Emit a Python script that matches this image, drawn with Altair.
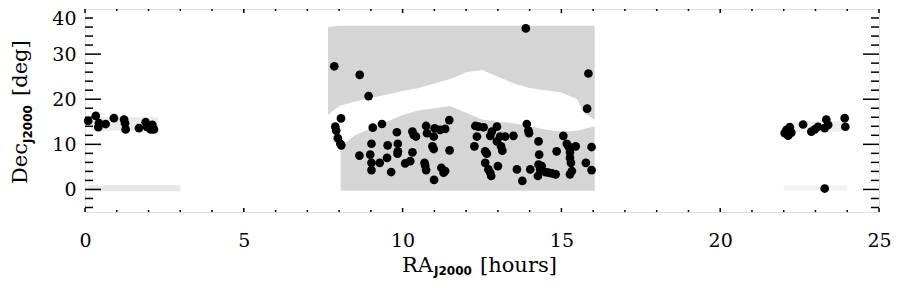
import altair as alt
import pandas as pd

# ---------------- data ----------------
# black points: RA [h], Dec [deg]
ra_black = [
    0.10, 0.34, 0.42, 0.44, 0.65, 0.91, 1.23, 1.26, 1.28, 1.70, 1.91, 1.96, 2.07, 2.12, 2.17,
    8.06, 7.88, 7.91, 7.96, 8.04, 8.07,
    7.85, 8.65, 8.93, 13.88, 15.85, 15.81,
    8.64, 8.98, 9.02, 9.06, 9.35, 9.02, 9.28, 9.02, 9.53, 9.51, 9.64, 9.82, 9.85, 9.85, 9.84,
    10.08, 10.24, 10.31, 10.31, 10.35, 10.42, 10.69, 10.71, 10.74, 10.74, 10.77, 11.01, 10.98,
    10.94, 10.98, 10.99, 11.18, 11.22, 11.29, 11.34, 11.34, 11.47, 11.48,
    12.29, 12.39, 12.34, 12.26, 12.55, 12.60, 12.65, 12.60, 12.70, 12.76, 12.79, 12.81, 12.76,
    12.97, 12.97, 13.00, 13.07, 13.10, 13.14, 13.23, 13.49, 13.60, 13.77, 13.91, 13.96, 13.98,
    14.28, 14.30, 14.28, 14.33, 14.38, 14.49, 14.59, 14.70, 14.82, 14.02, 14.26, 14.85,
    15.06, 15.17, 15.22, 15.30, 15.27, 15.27, 15.27, 15.33, 15.45, 15.77, 15.95, 15.95,
    22.03, 22.09, 22.14, 22.19, 22.24, 22.61, 22.87, 22.98, 23.08, 23.29, 23.34, 23.40,
    23.92, 23.94, 23.29,
]
dec_black = [
    15.2, 16.3, 13.8, 14.7, 14.5, 15.8, 15.5, 14.7, 13.3, 13.6, 14.9, 13.8, 13.3, 14.3, 13.3,
    15.75, 13.92, 13.05, 11.37, 10.13, 9.77,
    27.3, 25.4, 20.7, 35.7, 25.7, 17.9,
    7.50, 7.72, 10.13, 13.70, 14.51, 5.90, 5.90, 4.29, 9.77, 6.99, 3.86, 12.68, 10.13, 8.45, 7.94,
    5.76, 6.27, 8.23, 12.83, 12.10, 11.73, 5.90, 5.32, 4.29, 14.07, 12.46, 13.56, 11.73,
    9.55, 8.96, 2.11, 13.19, 4.81, 3.71, 4.08, 13.41, 15.38, 8.67,
    14.07, 13.92, 11.73, 9.55, 13.78, 8.45, 7.94, 5.90, 4.44, 3.71, 2.98, 12.83, 11.88,
    13.92, 10.64, 5.17, 11.73, 9.55, 8.60, 11.73, 11.88, 4.44, 1.89, 14.51, 13.05, 12.46,
    10.64, 7.72, 5.53, 4.44, 5.17, 3.86, 3.71, 3.57, 3.35, 4.44, 2.98, 8.45,
    11.88, 10.13, 9.55, 5.90, 8.23, 6.99, 3.35, 4.08, 9.55, 5.90, 9.40, 4.29,
    12.5, 13.2, 11.9, 13.8, 12.6, 14.4, 12.8, 13.3, 13.9, 13.6, 15.5, 14.3,
    15.8, 13.9, 0.2,
]

# grey survey field (central block), upper part: RA, top and bottom Dec
up_ra = [7.65, 8.0, 8.5, 9.0, 9.5, 10.0, 10.5, 11.0, 11.5, 12.0, 12.5, 13.0, 13.5, 14.0, 14.5, 15.0, 15.5, 15.7, 16.05]
up_top = [36.0, 36.3, 36.3, 36.3, 36.3, 36.3, 36.3, 36.3, 36.3, 36.3, 36.3, 36.3, 36.3, 36.3, 36.3, 36.3, 36.3, 36.3, 36.3]
up_bottom = [16.5, 18.5, 19.5, 20.3, 21.0, 21.8, 22.5, 23.5, 24.5, 26.0, 26.5, 25.0, 23.5, 22.5, 22.0, 21.5, 20.0, 17.0, 15.5]
# lower part
lo_ra = [8.05, 8.5, 9.0, 9.5, 10.0, 10.5, 11.0, 11.5, 12.0, 12.5, 13.0, 13.5, 14.0, 14.5, 15.0, 15.5, 16.05]
lo_top = [9.5, 12.0, 13.5, 15.0, 16.5, 17.5, 18.0, 18.5, 17.0, 15.5, 15.0, 14.7, 14.0, 13.3, 12.8, 13.0, 14.0]
lo_bottom = [-0.3, -0.3, -0.3, -0.3, -0.3, -0.3, -0.3, -0.3, -0.3, -0.3, -0.3, -0.3, -0.3, -0.3, -0.3, -0.3, -0.3]
field_density = 0.40

# sparse grey strips
strip_ra0 = [0.1, 0.2, 22.0, 22.3]
strip_ra1 = [3.0, 2.3, 24.0, 23.9]
strip_dec0 = [-0.4, 13.0, -0.3, 12.8]
strip_dec1 = [1.0, 16.0, 0.9, 15.2]
strip_density = [0.22, 0.2, 0.12, 0.15]

# ticks
x_major = [0, 5, 10, 15, 20, 25]
x_minor = [1, 2, 3, 4, 6, 7, 8, 9, 11, 12, 13, 14, 16, 17, 18, 19, 21, 22, 23, 24]
y_major = [0, 10, 20, 30]
y_minor = [-4, -2, 2, 4, 6, 8, 12, 14, 16, 18, 22, 24, 26, 28, 32, 34, 36, 38]
y_labels = [0, 10, 20, 30, 40]

# ---------------- chart ----------------
W, H = 794, 203
xs = alt.Scale(domain=[0, 25], nice=False, zero=False)
ys = alt.Scale(domain=[-5, 40], nice=False, zero=False)
dens = alt.Scale(domain=[0, 1], range=["#ffffff", "#999999"])

SERIF = "DejaVu Serif"

x_axis = alt.Axis(
    values=x_major, format="d", ticks=False, tickSize=0, domain=False, grid=False, title=None,
    labelFont=SERIF, labelFontSize=19, labelColor="black", labelPadding=19, labelFlush=False)
y_axis = alt.Axis(
    values=y_labels, format="d", ticks=False, tickSize=0, domain=False, grid=False, title=None,
    labelFont=SERIF, labelFontSize=19, labelColor="black", labelPadding=9,
    labelFlush=True, labelFlushOffset=0)

upper = pd.DataFrame({"ra": up_ra, "top": up_top, "bot": up_bottom, "d": field_density})
lower = pd.DataFrame({"ra": lo_ra, "top": lo_top, "bot": lo_bottom, "d": field_density})

area_up = alt.Chart(upper).mark_area(interpolate="linear").encode(
    x=alt.X("ra:Q", scale=xs, axis=x_axis),
    y=alt.Y("top:Q", scale=ys, axis=y_axis), y2="bot:Q",
    color=alt.Color("d:Q", scale=dens, legend=None))
area_lo = alt.Chart(lower).mark_area(interpolate="linear").encode(
    x=alt.X("ra:Q", scale=xs), y=alt.Y("top:Q", scale=ys), y2="bot:Q",
    color=alt.Color("d:Q", scale=dens, legend=None))

strips = alt.Chart(pd.DataFrame({"r0": strip_ra0, "r1": strip_ra1, "d0": strip_dec0,
                                 "d1": strip_dec1, "d": strip_density})).mark_rect().encode(
    x=alt.X("r0:Q", scale=xs), x2="r1:Q", y=alt.Y("d0:Q", scale=ys), y2="d1:Q",
    color=alt.Color("d:Q", scale=dens, legend=None))

points = alt.Chart(pd.DataFrame({"ra": ra_black, "dec": dec_black})).mark_circle(
    size=76, color="black", opacity=1).encode(
    x=alt.X("ra:Q", scale=xs), y=alt.Y("dec:Q", scale=ys))

# inward ticks on all four sides
def xticks(vals, y0, y1):
    return alt.Chart(pd.DataFrame({"t": vals})).mark_rule(color="black", strokeWidth=1.5).encode(
        x=alt.X("t:Q", scale=xs), y=alt.value(y0), y2=alt.value(y1))

def yticks(vals, x0, x1):
    return alt.Chart(pd.DataFrame({"t": vals})).mark_rule(color="black", strokeWidth=1.5).encode(
        y=alt.Y("t:Q", scale=ys), x=alt.value(x0), x2=alt.value(x1))

tick_layers = [
    xticks(x_major, H, H - 4), xticks(x_minor, H, H - 2),
    xticks(x_major, 0, 4), xticks(x_minor, 0, 2),
    yticks(y_major, 0, 16), yticks(y_minor, 0, 8),
    yticks(y_major, W, W - 16), yticks(y_minor, W, W - 8),
]

def txt(s, x, y, size, font=SERIF, weight="normal", angle=0):
    return alt.Chart(pd.DataFrame({"s": [s]})).mark_text(
        font=font, fontSize=size, fontWeight=weight, align="left", baseline="alphabetic",
        angle=angle, color="black").encode(x=alt.value(x), y=alt.value(y), text="s:N")

titles = [
    txt("RA", 317, 263, 21),
    txt("J2000", 349, 266, 12, font="DejaVu Sans", weight="bold"),
    txt("[hours]", 395, 263, 21),
    txt("Dec", -58, 175, 21, angle=270),
    txt("J2000", -53, 134, 12, font="DejaVu Sans", weight="bold", angle=270),
    txt("[deg]", -58, 87, 21, angle=270),
]

chart = alt.layer(area_up, area_lo, strips, points, *tick_layers, *titles).resolve_scale(
    color="shared").properties(
    width=W, height=H,
    padding={"left": 77, "top": 1, "right": 12, "bottom": 67},
    autosize=alt.AutoSizeParams(type="none"),
).configure_view(stroke="black", strokeWidth=2).configure(background="white")

chart.save("out.html", embed_options={"renderer": "svg", "actions": False})
